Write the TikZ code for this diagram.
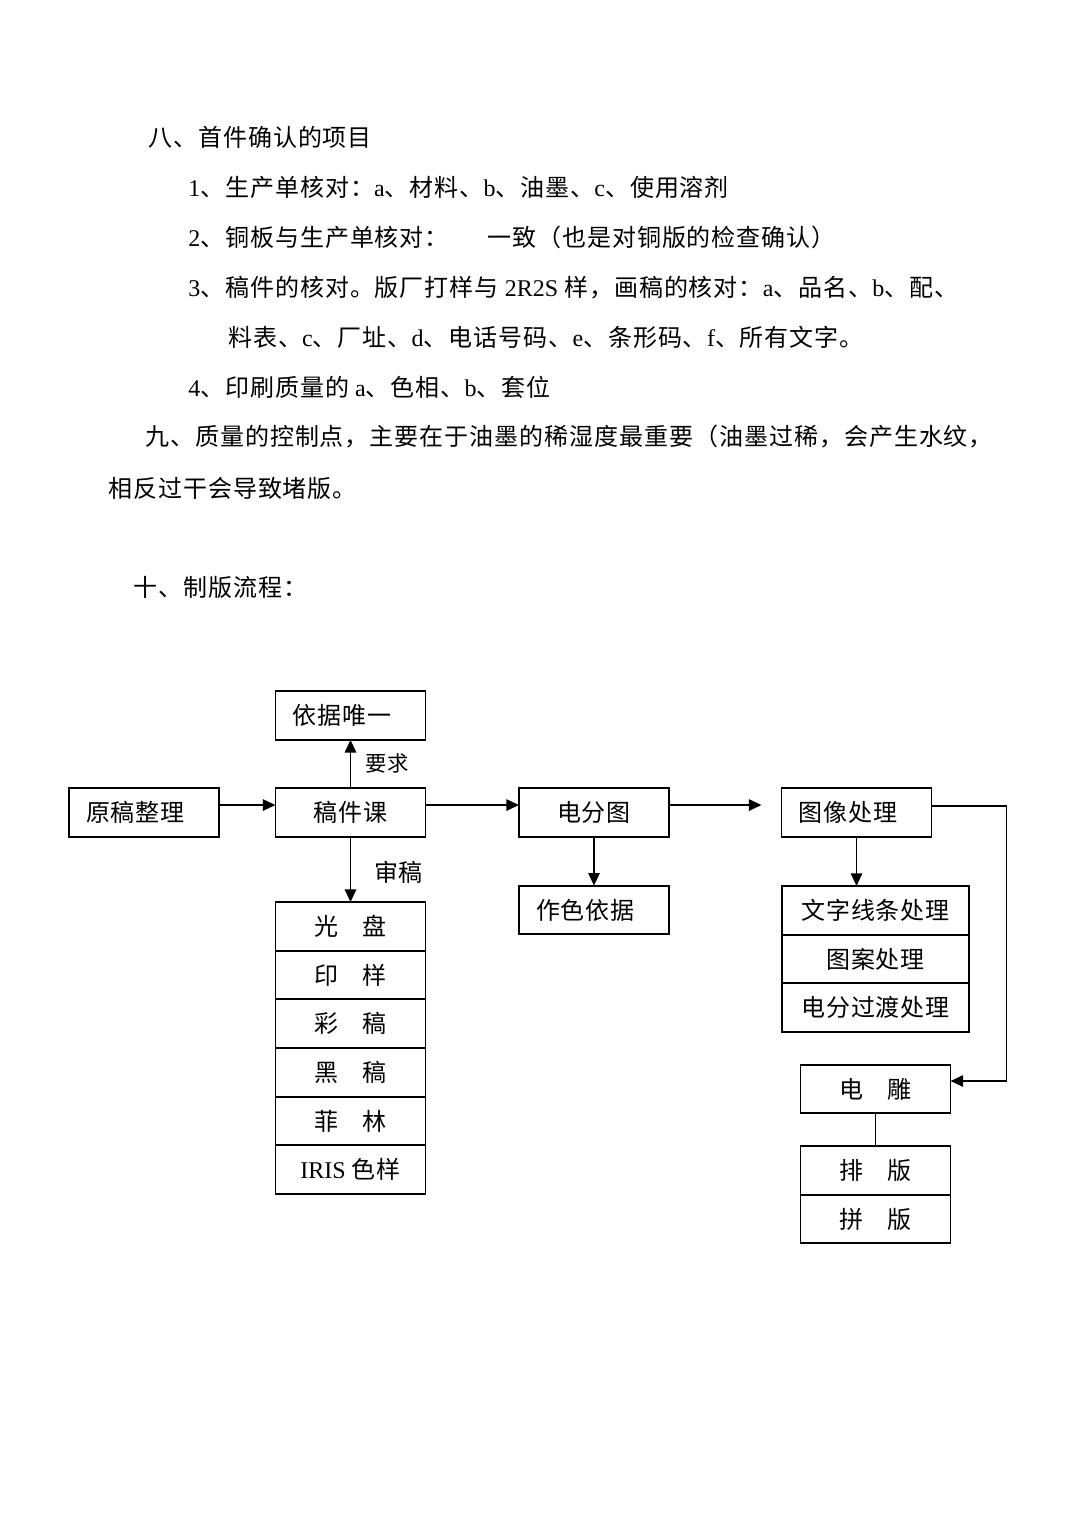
\documentclass[tikz,border=0pt]{standalone}
\usepackage{fontspec}
\setmainfont[LetterSpace=4]{Noto Sans CJK SC}
\newfontfamily\lat{Liberation Serif}
\usetikzlibrary{positioning, arrows.meta}

\begin{document}
\begin{tikzpicture}[x=0.75pt, y=-0.75pt, font=\fontsize{18}{22}\selectfont]
    \tikzstyle{txt}=[anchor=west, inner sep=0pt]
    \tikzstyle{box}=[rectangle, draw, line width=1.4pt, outer sep=0pt, inner sep=0pt, minimum width=112.5pt, minimum height=36.5pt]
    \tikzstyle{boxl}=[box, text width=87pt, align=left]
    \tikzstyle{arr}=[line width=1.4pt, -{Triangle[length=9.5pt, width=8.5pt]}]
    \tikzstyle{plain}=[line width=1.4pt]
    \useasboundingbox (0,0) rectangle (1074,1517);

    \node [txt] (t8) at (148,137) {八、首件确认的项目};
    \node [txt] (t81) at (188,187) {{\lat 1}、生产单核对：{\lat a}、材料、{\lat b}、油墨、{\lat c}、使用溶剂};
    \node [txt] (t82) at (188,237) {{\lat 2}、铜板与生产单核对：\hspace{1.6em}一致（也是对铜版的检查确认）};
    \node [txt] (t83) at (188,288) {{\lat 3}、稿件的核对。版厂打样与{\lat\ 2R2S }样，画稿的核对：{\lat a}、品名、{\lat b}、配、};
    \node [txt] (t83b) at (228,337) {料表、{\lat c}、厂址、{\lat d}、电话号码、{\lat e}、条形码、{\lat f}、所有文字。};
    \node [txt] (t84) at (188,387) {{\lat 4}、印刷质量的{\lat\ a}、色相、{\lat b}、套位};
    \node [txt] (t9) at (145,437) {九、质量的控制点，主要在于油墨的稀湿度最重要（油墨过稀，会产生水纹，};
    \node [txt] (t9b) at (108,488) {相反过干会导致堵版。};
    \node [txt] (t10) at (133,587) {十、制版流程：};

    \node [boxl] (yjwy) at (350.5,715.5) {依据唯一};
    \node [boxl] (ygzl) at (144,812.5) {原稿整理};
    \node [box] (gjk) at (350.5,812.5) {稿件课};
    \node [box] (dft) at (594,812.5) {电分图};
    \node [boxl] (txcl) at (856.5,812.5) {图像处理};
    \node [boxl] (zsyj) at (594,910) {作色依据};

    \node [box] (gp) at (350.5,926.4) {光\hspace{1em}盘};
    \node [box, below=0pt of gp] (ys) {印\hspace{1em}样};
    \node [box, below=0pt of ys] (cg) {彩\hspace{1em}稿};
    \node [box, below=0pt of cg] (hg) {黑\hspace{1em}稿};
    \node [box, below=0pt of hg] (fl) {菲\hspace{1em}林};
    \node [box, below=0pt of fl] (iris) {{\lat IRIS }色样};

    \node [box, minimum width=140pt] (wzxt) at (875.5,910.3) {文字线条处理};
    \node [box, minimum width=140pt, below=0pt of wzxt] (tacl) {图案处理};
    \node [box, minimum width=140pt, below=0pt of tacl] (dfgd) {电分过渡处理};

    \node [box] (dd) at (875.5,1089) {电\hspace{1em}雕};
    \node [box] (pb) at (875.5,1170.3) {排\hspace{1em}版};
    \node [box, below=0pt of pb] (pinb) {拼\hspace{1em}版};

    \node [font=\fontsize{16}{18}\selectfont] (yq) at (387.5,763) {要求};
    \node (sg) at (398.5,872) {审稿};

    \draw [arr] ([yshift=5.6pt]ygzl.east) -- ([yshift=5.6pt]gjk.west);
    \draw [arr] ([yshift=5.6pt]gjk.east) -- ([yshift=5.6pt]dft.west);
    \draw [arr] ([yshift=5.6pt]dft.east) -- ([yshift=5.6pt, xshift=-15pt]txcl.west);
    \draw [arr] (gjk.north) -- (yjwy.south);
    \draw [arr] (gjk.south) -- (gp.north);
    \draw [arr] (dft.south) -- (zsyj.north);
    \draw [arr] (txcl.south) -- (txcl.south |- wzxt.north);
    \draw [arr] ([yshift=5pt]txcl.east) -- ++(75,0) |- ([yshift=6pt]dd.east);
    \draw [plain] (dd.south) -- (pb.north);
\end{tikzpicture}
\end{document}
